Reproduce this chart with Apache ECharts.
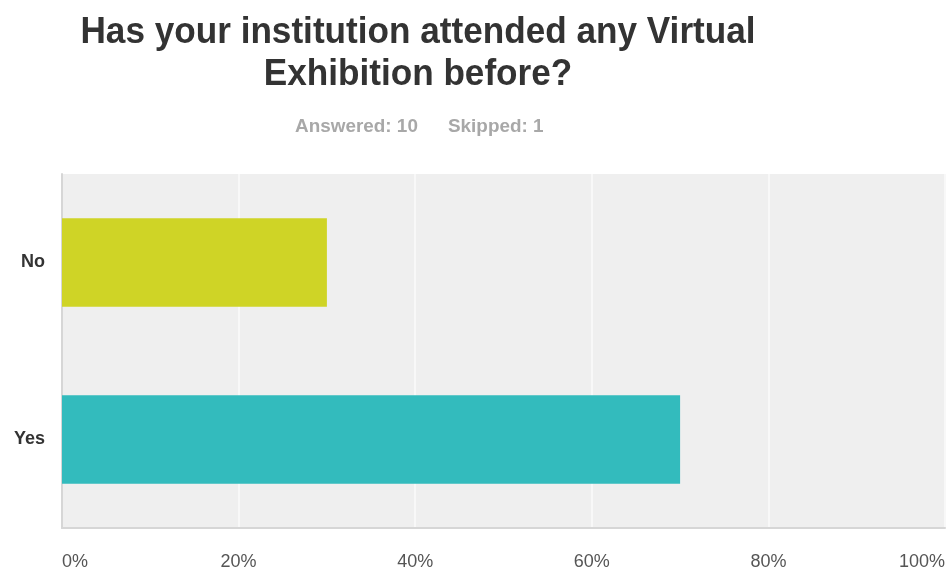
<!DOCTYPE html>
<html>
<head>
<meta charset="utf-8">
<script src="https://cdn.jsdelivr.net/npm/echarts@6/dist/echarts.min.js"></script>
<style>
  html, body { margin: 0; padding: 0; background: #ffffff; }
  #chart { width: 949px; height: 572px; }
</style>
</head>
<body>
<div id="chart"></div>
<script>
// Survey answers (percent of respondents)
const categories = ['Yes', 'No'];
const percentValues = [70, 30];
const barColors = ['#33bbbd', '#cfd426'];
const tickLabels = ['0%', '20%', '40%', '60%', '80%', '100%'];
const titleText = 'Has your institution attended any Virtual\nExhibition before?';
const answeredText = 'Answered: 10';
const skippedText = 'Skipped: 1';

const headingFont = '"Liberation Sans", Arial, sans-serif';

const chart = echarts.init(document.getElementById('chart'), null, { renderer: 'canvas' });

chart.setOption({
  animation: false,
  backgroundColor: '#ffffff',
  graphic: [
    {
      // question heading, slightly condensed
      type: 'text',
      x: 418,
      y: 12,
      scaleX: 0.95,
      silent: true,
      style: {
        text: titleText,
        textAlign: 'center',
        textVerticalAlign: 'top',
        fontFamily: headingFont,
        fontWeight: 'bold',
        fontSize: 37,
        lineHeight: 42,
        fill: '#333333'
      }
    },
    {
      type: 'text',
      x: 295,
      y: 127,
      scaleX: 1.05,
      silent: true,
      style: {
        text: answeredText,
        textAlign: 'left',
        textVerticalAlign: 'middle',
        fontFamily: headingFont,
        fontWeight: 'bold',
        fontSize: 18,
        fill: '#a8a8a8'
      }
    },
    {
      type: 'text',
      x: 448,
      y: 127,
      scaleX: 1.05,
      silent: true,
      style: {
        text: skippedText,
        textAlign: 'left',
        textVerticalAlign: 'middle',
        fontFamily: headingFont,
        fontWeight: 'bold',
        fontSize: 18,
        fill: '#a8a8a8'
      }
    }
  ],
  grid: {
    left: 62,
    right: 4,
    top: 174,
    bottom: 44,
    show: true,
    backgroundColor: '#efefef',
    borderWidth: 0
  },
  xAxis: {
    type: 'value',
    min: 0,
    max: 100,
    interval: 20,
    axisLine: { show: true, lineStyle: { color: '#d6d6d6', width: 2 } },
    axisTick: { show: false },
    splitLine: { show: true, lineStyle: { color: '#f8f8f8', width: 2 } },
    axisLabel: {
      margin: 25,
      fontSize: 18,
      fontFamily: '"Liberation Sans", Arial, sans-serif',
      color: '#555555',
      alignMinLabel: 'left',
      alignMaxLabel: 'right',
      formatter: function (v) { return tickLabels[Math.round(v / 20)]; }
    }
  },
  yAxis: {
    type: 'category',
    data: categories,
    axisLine: { show: true, lineStyle: { color: '#d6d6d6', width: 2 } },
    axisTick: { show: false },
    splitLine: { show: false },
    axisLabel: {
      margin: 17,
      fontSize: 18,
      fontWeight: 'bold',
      fontFamily: '"Liberation Sans", Arial, sans-serif',
      color: '#333333'
    }
  },
  series: [
    {
      type: 'bar',
      barWidth: '50%',
      data: percentValues.map(function (v, i) {
        return { value: v, itemStyle: { color: barColors[i] } };
      })
    }
  ]
});
</script>
</body>
</html>
